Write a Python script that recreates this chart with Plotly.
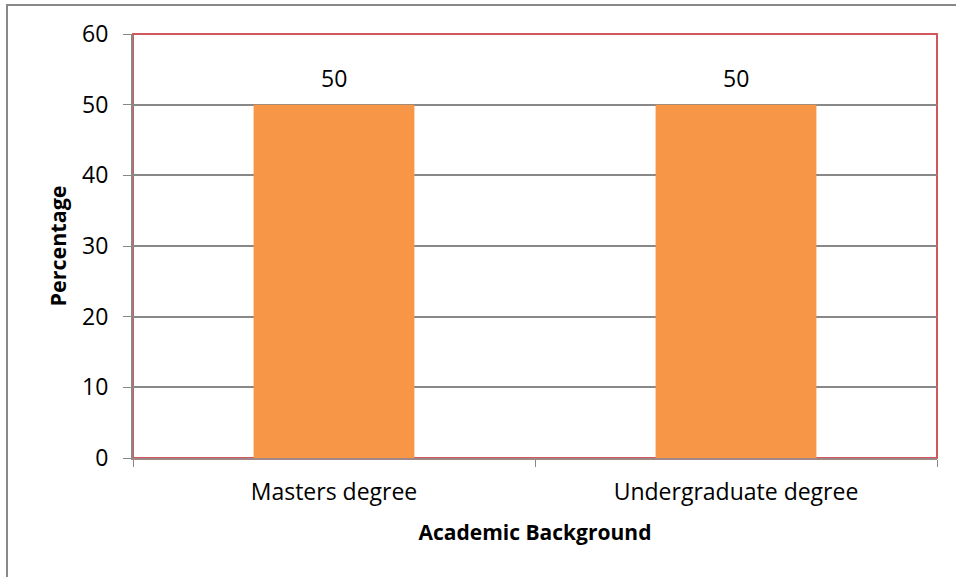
import plotly.graph_objects as go

categories = ["Masters degree", "Undergraduate degree"]
values = [50, 50]

W, H = 956, 577
ml, mr, mt, mb = 133, 19, 34, 119
pw, ph = W - ml - mr, H - mt - mb

def px_x(x):
    return (x - ml) / pw

def px_y(y):
    return (H - mb - y) / ph

fnt = "Open Sans, Liberation Sans, sans-serif"

fig = go.Figure(go.Bar(
    x=categories, y=values,
    marker=dict(color="#F79646", line=dict(width=0)),
    hoverinfo="x+y",
))

for c, v in zip(categories, values):
    fig.add_annotation(x=c, y=v, text=str(v), showarrow=False,
                       yanchor="middle", yshift=27,
                       font=dict(size=23, color="#000000", family=fnt))

fig.update_layout(
    width=W, height=H,
    margin=dict(l=ml, r=mr, t=mt, b=mb),
    paper_bgcolor="white", plot_bgcolor="white",
    bargap=0.6,
    showlegend=False,
    font=dict(family=fnt, color="#000000", size=23),
    xaxis=dict(
        title=dict(text="<b>Academic Background</b>", font=dict(size=21), standoff=20),
        showline=True, linecolor="#A08888", linewidth=2,
        ticks="outside", tickson="boundaries", ticklen=7, tickcolor="#888888", tickwidth=1,
        tickfont=dict(size=23), showgrid=False, ticklabelstandoff=12,
    ),
    yaxis=dict(
        title=dict(text="<b>Percentage</b>", font=dict(size=21.5), standoff=10),
        range=[0, 60], dtick=10,
        showline=True, linecolor="#888888", linewidth=2,
        ticks="outside", ticklen=8, tickcolor="#888888", tickwidth=1,
        tickfont=dict(size=23), ticklabelstandoff=10,
        showgrid=True, gridcolor="#888888", gridwidth=1.5,
        zeroline=False,
    ),
    shapes=[
        dict(type="rect", xref="paper", yref="paper", x0=0, x1=1, y0=0, y1=1,
             line=dict(color="#D0585C", width=2), layer="below"),
        dict(type="rect", xref="paper", yref="paper",
             x0=px_x(7), x1=px_x(965), y0=px_y(590), y1=px_y(5),
             line=dict(color="#888888", width=2), layer="below"),
    ],
)

fig.write_html("out.html")
